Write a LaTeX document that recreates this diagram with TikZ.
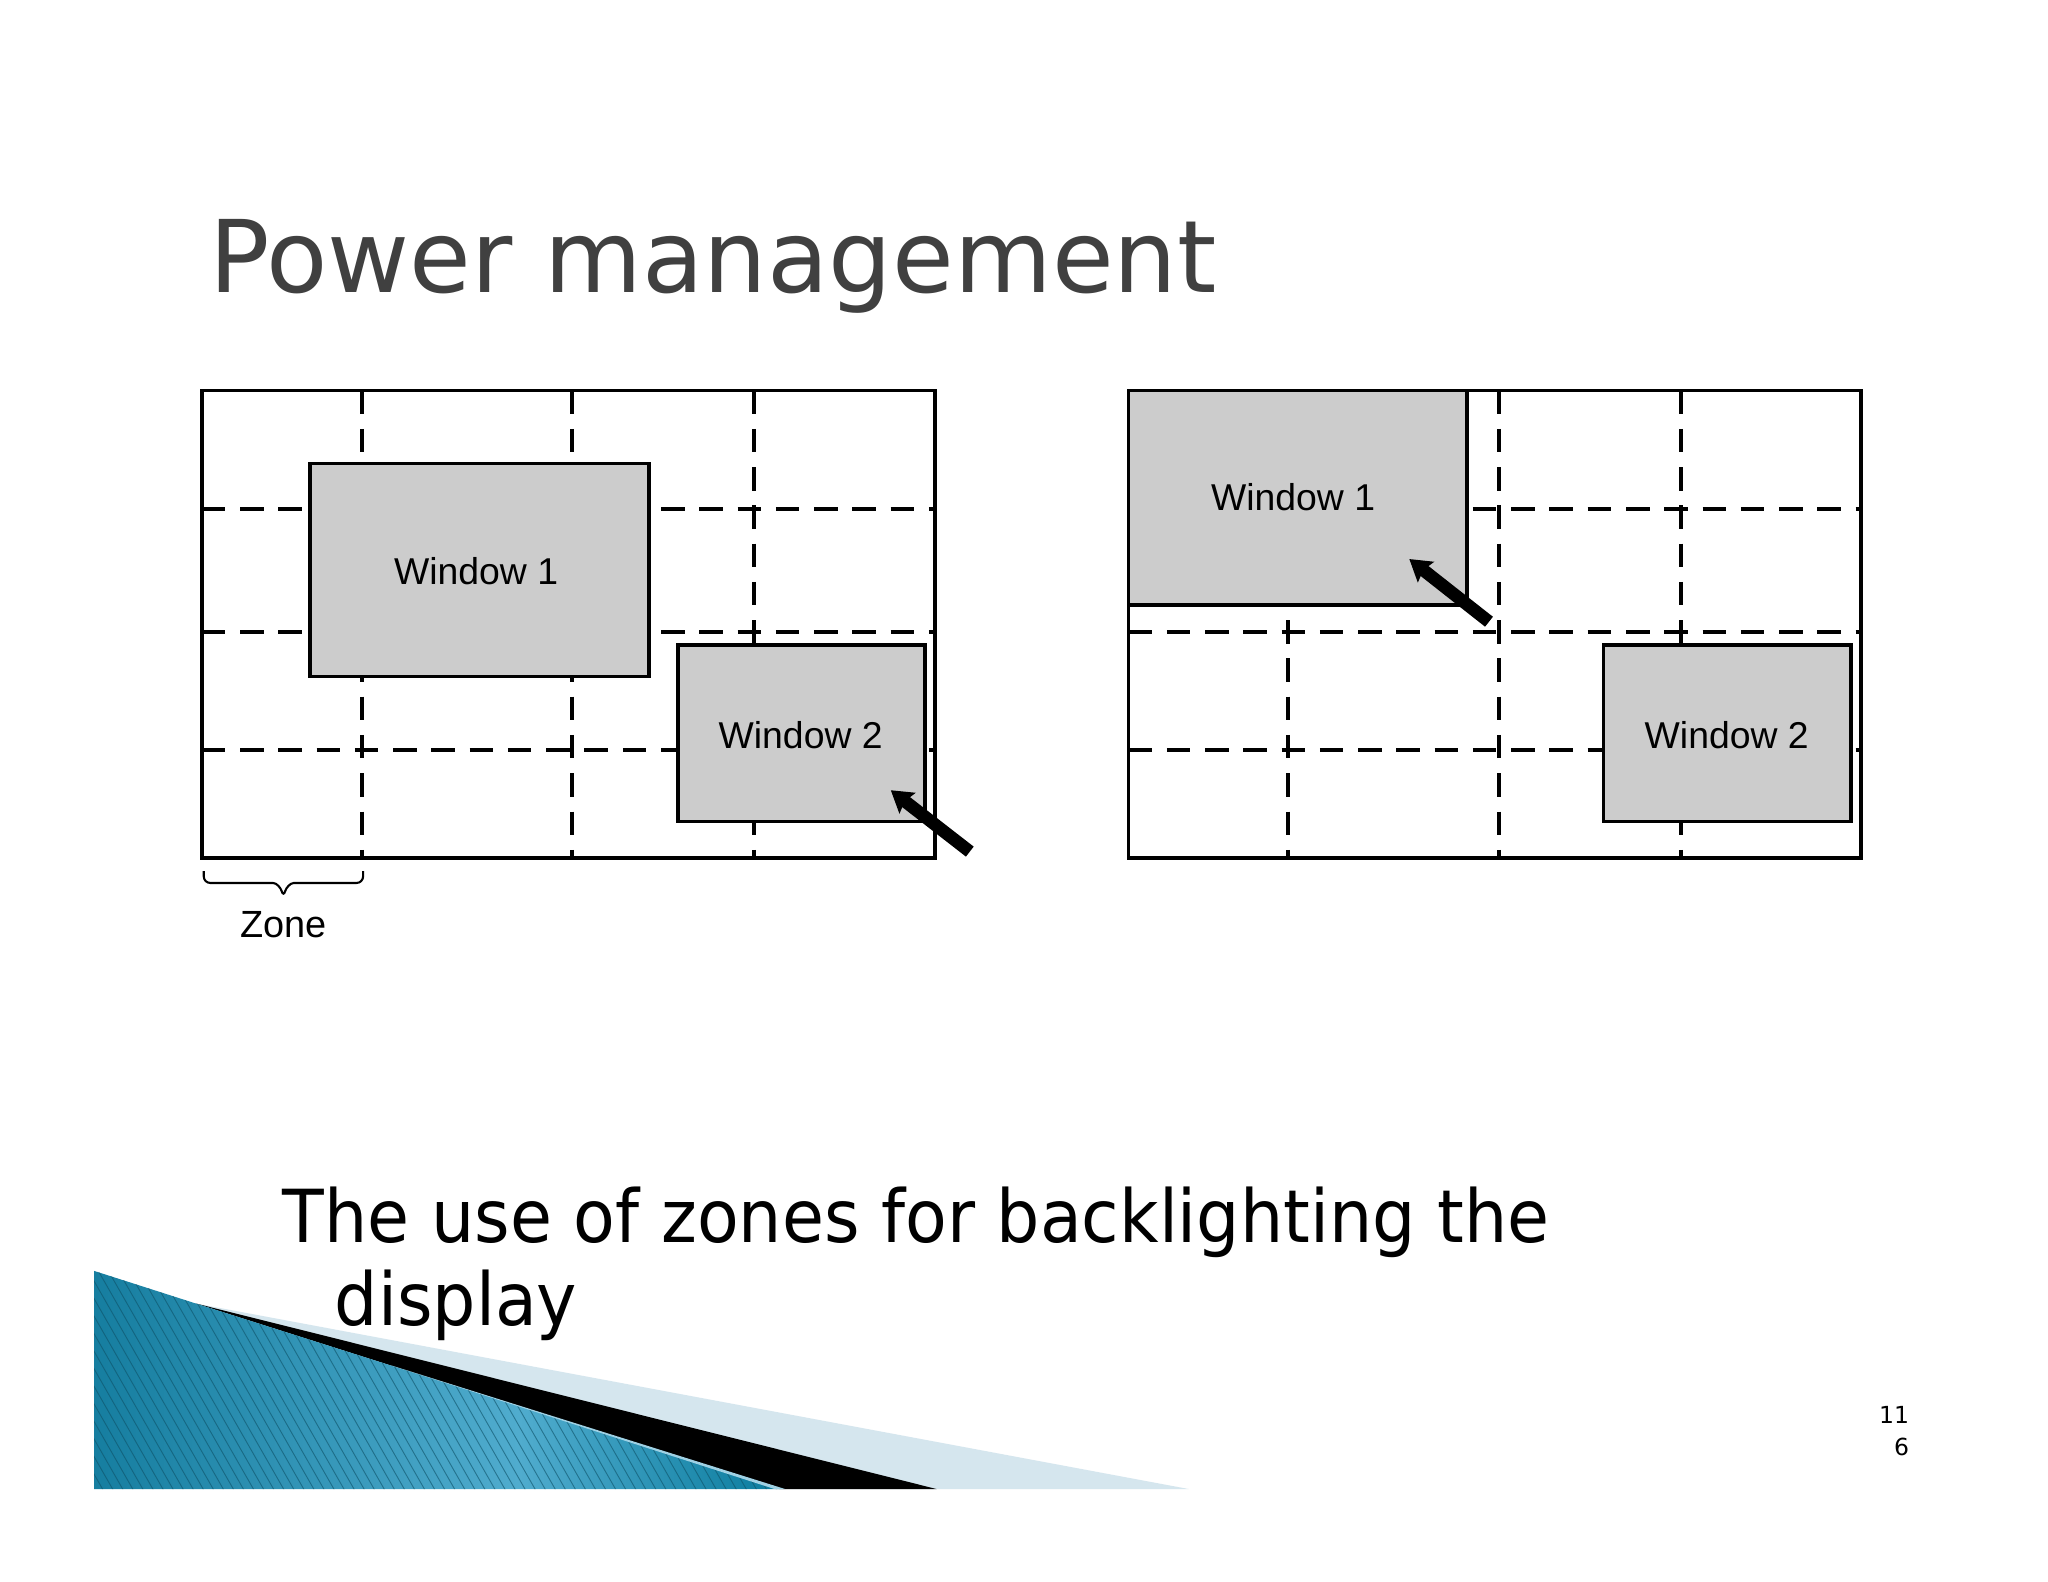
\documentclass[tikz,border=0pt]{standalone}
\usepackage{fontspec}
\setmainfont{DejaVu Sans}
\newfontfamily\figfont{Liberation Sans}
\newfontfamily\capfont[FakeStretch=0.933]{DejaVu Sans}
\usetikzlibrary{arrows.meta}
\definecolor{pm-title}{RGB}{64, 64, 64}
\definecolor{pm-window}{RGB}{204, 204, 204}
\definecolor{pm-teal0}{RGB}{22, 126, 160}
\definecolor{pm-teal1}{RGB}{80, 172, 206}
\definecolor{pm-teal2}{RGB}{10, 124, 158}
\definecolor{pm-pale}{RGB}{213, 230, 238}
\pgfdeclarehorizontalshading{wedgeglow}{100bp}{color(0bp)=(pm-teal0); color(25bp)=(pm-teal0); color(56bp)=(pm-teal1); color(75bp)=(pm-teal2); color(100bp)=(pm-teal2)}
\tikzset{
  framebox/.style={draw, line width=1.35pt},
  zoneline/.style={line width=1.5pt, dash pattern=on 9pt off 5.65pt},
  windowbox/.style={draw, line width=1.35pt, fill=pm-window},
  windowtext/.style={font=\figfont\fontsize{14.3}{16}\selectfont},
  movearrow/.style={line width=4.85pt, -{Stealth[length=8pt, width=9.8pt, inset=1.2pt]}},
  bigtext/.style={anchor=base west, inner sep=0pt, font=\capfont\fontsize{28}{34}\selectfont},
  pagetext/.style={anchor=base east, inner sep=0pt, font=\fontsize{9}{11}\selectfont},
}

\begin{document}
\begin{tikzpicture}[x=0.5pt, y=-0.5pt]
  \fill[white] (0, 0) rectangle (1568, 1211.2);
  \useasboundingbox (0, 0) rectangle (1568, 1211.2);

  \node[anchor=base west, text=pm-title, inner sep=0pt, font=\fontsize{38.4}{44}\selectfont] (title) at (160, 224) {Power management};

  % left panel
  \foreach \x in {277, 438, 577} {
    \draw[zoneline] (\x, 299) -- (\x, 657);
  }
  \foreach \y in {390, 484, 574} {
    \draw[zoneline] (154.5, \y) -- (716, \y);
  }
  \draw[windowbox] (237.5, 355) rectangle (497, 518);
  \draw[windowbox] (519, 494) rectangle (708, 629);
  \draw[framebox] (154.5, 299) rectangle (716, 657);
  \node[windowtext] (leftone) at (364.5, 437) {Window 1};
  \node[windowtext] (lefttwo) at (613, 563) {Window 2};

  \coordinate (lefttail) at (742.5, 652);
  \coordinate (lefttip) at (682, 605);
  \draw[movearrow] (lefttail) -- (lefttip);

  \coordinate (zonea) at (156, 667);
  \coordinate (zoneb) at (278, 667);
  \draw[line width=0.8pt, rounded corners=2.5pt] (zonea) -- (156, 676) -- (204, 676) .. controls (212, 676) and (215, 680) .. (217, 687) .. controls (219, 680) and (222, 676) .. (230, 676) -- (278, 676) -- (zoneb);
  \node[font=\figfont\fontsize{14.5}{16}\selectfont] (zone) at (217, 708) {Zone};

  % right panel
  \foreach \x in {986, 1148, 1287} {
    \draw[zoneline] (\x, 299) -- (\x, 657);
  }
  \foreach \y in {390, 484, 574} {
    \draw[zoneline] (864, \y) -- (1425, \y);
  }
  \draw[windowbox] (864, 299) rectangle (1123, 463);
  \draw[windowbox] (1227.5, 494) rectangle (1417, 629);
  \draw[framebox] (864, 299) rectangle (1425, 657);
  \node[windowtext] (rightone) at (990, 381) {Window 1};
  \node[windowtext] (righttwo) at (1322, 563) {Window 2};

  \coordinate (righttail) at (1140, 476);
  \coordinate (righttip) at (1079, 428);
  \draw[movearrow] (righttail) -- (righttip);

  % wedge in the corner
  \fill[pm-pale] (150, 998) -- (910, 1140) -- (597, 1140) -- cycle;
  \fill[black] (150, 998) -- (717, 1140) -- (597, 1140) -- cycle;
  \begin{scope}
    \clip (72, 973) -- (150, 998) -- (597, 1140) -- (72, 1140) -- cycle;
    \shade[shading=wedgeglow] (72, 973) rectangle (597, 1140);
    \foreach \k in {0, ..., 85} {
      \draw[line width=0.35pt, pm-teal0!65!black, opacity=.6] (-40 + \k*7.7, 960) -- +(110, 192);
    }
  \end{scope}
  \fill[pm-teal1!55!white] (300, 1045.5) -- (601, 1140) -- (593, 1140) -- cycle;

  \node[bigtext] (captiona) at (216, 951) {The use of zones for backlighting the};
  \node[bigtext] (captionb) at (256, 1015) {display};

  \node[pagetext] (pagea) at (1462, 1090) {11};
  \node[pagetext] (pageb) at (1462, 1114) {6};
\end{tikzpicture}
\end{document}
